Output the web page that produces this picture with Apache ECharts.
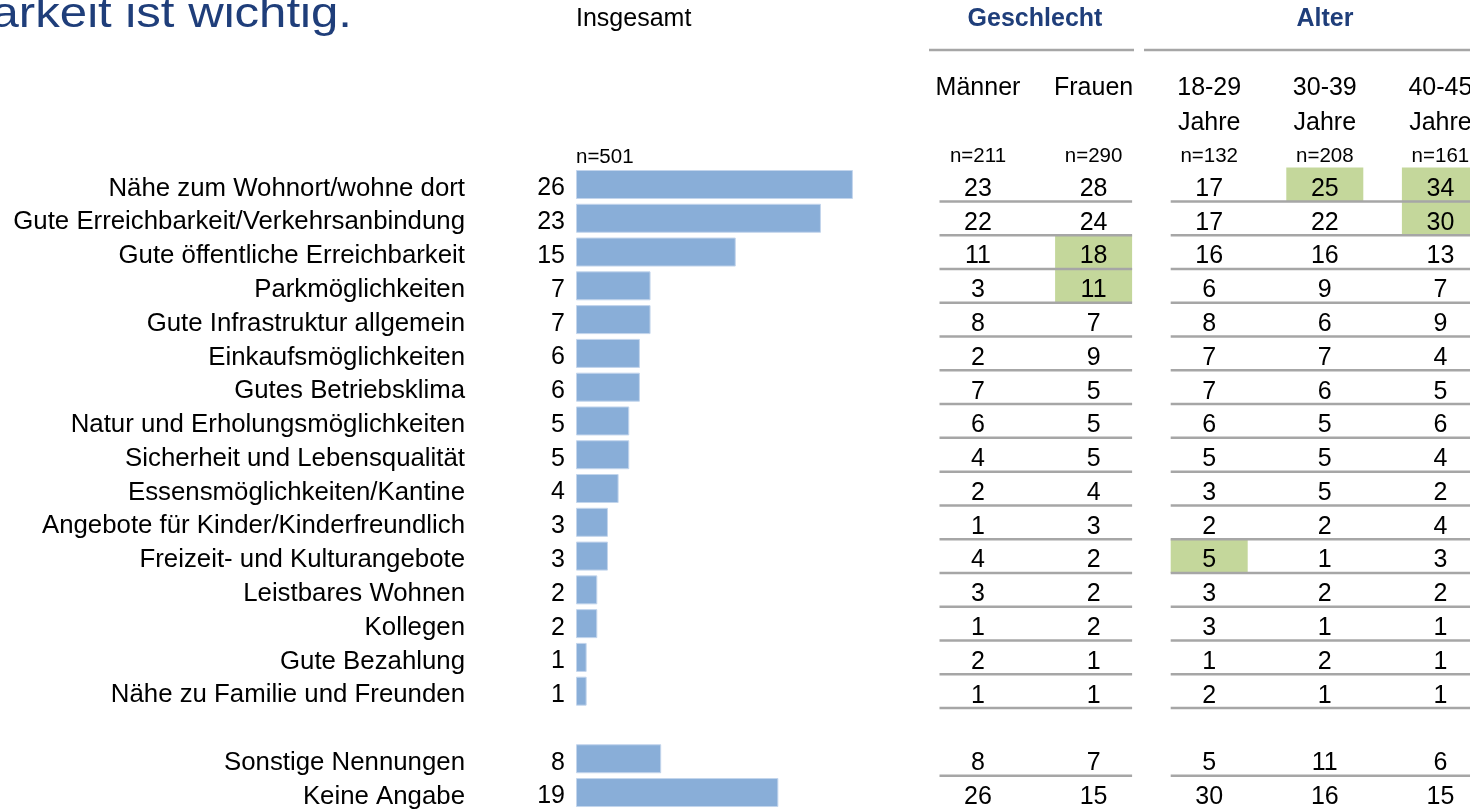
<!DOCTYPE html>
<html>
<head>
<meta charset="utf-8">
<title>Erreichbarkeit</title>
<script src="https://cdn.jsdelivr.net/npm/echarts@6.0.0/dist/echarts.min.js"></script>
<style>
    html, body { margin: 0; padding: 0; background: #fff; }
    #chart { width: 1470px; height: 811px; }
</style>
</head>
<body>
<div id="chart"></div>
<script>
// Kategorien (leerer Eintrag = Abstand vor "Sonstige")
var categories = [
    'Nähe zum Wohnort/wohne dort',
    'Gute Erreichbarkeit/Verkehrsanbindung',
    'Gute öffentliche Erreichbarkeit',
    'Parkmöglichkeiten',
    'Gute Infrastruktur allgemein',
    'Einkaufsmöglichkeiten',
    'Gutes Betriebsklima',
    'Natur und Erholungsmöglichkeiten',
    'Sicherheit und Lebensqualität',
    'Essensmöglichkeiten/Kantine',
    'Angebote für Kinder/Kinderfreundlich',
    'Freizeit- und Kulturangebote',
    'Leistbares Wohnen',
    'Kollegen',
    'Gute Bezahlung',
    'Nähe zu Familie und Freunden',
    '',
    'Sonstige Nennungen',
    'Keine Angabe'
];

// Werte in %
var insgesamt = [26, 23, 15, 7, 7, 6, 6, 5, 5, 4, 3, 3, 2, 2, 1, 1, null, 8, 19];
var maenner   = [23, 22, 11, 3, 8, 2, 7, 6, 4, 2, 1, 4, 3, 1, 2, 1, null, 8, 26];
var frauen    = [28, 24, 18, 11, 7, 9, 5, 5, 5, 4, 3, 2, 2, 2, 1, 1, null, 7, 15];
var alter1829 = [17, 17, 16, 6, 8, 7, 7, 6, 5, 3, 2, 5, 3, 3, 1, 2, null, 5, 30];
var alter3039 = [25, 22, 16, 9, 6, 7, 6, 5, 5, 5, 2, 1, 2, 1, 2, 1, null, 11, 16];
var alter4045 = [34, 30, 13, 7, 9, 4, 5, 6, 4, 2, 4, 3, 2, 1, 1, 1, null, 6, 15];

// Spaltenköpfe
var colHeaders = ['Männer', 'Frauen', '18-29', '30-39', '40-45'];
var colSub = ['', '', 'Jahre', 'Jahre', 'Jahre'];
var sampleSizes = ['n=211', 'n=290', 'n=132', 'n=208', 'n=161'];
var totalSample = 'n=501';

// signifikant höhere Werte [Spalte, Zeile]
var highlighted = [[1, 2], [1, 3], [3, 0], [4, 0], [4, 1], [2, 11]];

var FONT = '"Liberation Sans", Arial, sans-serif';
var BLUE = '#1F3E7A';

var rowH = 33.78;
var gridTop = 184.5 - rowH / 2;
var gridH = rowH * categories.length;
var colW = 115.6;
var tableLeft = 978 - colW / 2;
// Tabelle läuft rechts über den Rand hinaus
var tableWidth = 1470 - tableLeft;
var tableMax = tableWidth / colW - 0.5;

function isHighlighted(c, r) {
    for (var i = 0; i < highlighted.length; i++) {
        if (highlighted[i][0] === c && highlighted[i][1] === r) return true;
    }
    return false;
}

var columns = [maenner, frauen, alter1829, alter3039, alter4045];
var cellData = [];
columns.forEach(function(col, c) {
    col.forEach(function(v, r) {
        if (v !== null) cellData.push([c, r, v, isHighlighted(c, r) ? 1 : 0]);
    });
});

var ruleData = [];
categories.forEach(function(name, r) {
    if (name && r < categories.length - 1) ruleData.push([0, r]);
});

/**
 * Zelle der Tabelle (Wert + ggf. grüner Hintergrund)
 */
function renderCell(params, api) {
    var pt = api.coord([api.value(0), api.value(1)]);
    var h = api.size([1, 1])[1];
    var children = [];
    if (api.value(3)) {
        children.push({
            type: 'rect',
            shape: { x: pt[0] - 38.5, y: pt[1] - h / 2, width: 77, height: h },
            style: { fill: '#C4D79B' }
        });
    }
    children.push({
        type: 'text',
        x: pt[0],
        y: pt[1] + 4.5,
        style: {
            text: String(api.value(2)),
            align: 'center',
            verticalAlign: 'middle',
            font: '25px ' + FONT,
            fill: '#000'
        }
    });
    return { type: 'group', children: children };
}

/**
 * Trennlinien unter jeder Zeile (Geschlecht / Alter getrennt)
 */
function renderRule(params, api) {
    var r = api.value(1);
    var h = api.size([1, 1])[1];
    var y = api.coord([0, r])[1] + h / 2;
    var segs = [[0, 1], [2, 4]];
    return {
        type: 'group',
        children: segs.map(function(s) {
            return {
                type: 'line',
                shape: {
                    x1: api.coord([s[0], r])[0] - 38.5, y1: y,
                    x2: api.coord([s[1], r])[0] + 38.5, y2: y
                },
                style: { stroke: '#A6A6A6', lineWidth: 2.5 }
            };
        })
    };
}

var option = {
    animation: false,
    backgroundColor: '#fff',
    textStyle: { fontFamily: FONT },
    grid: [
        { left: 576, top: gridTop, width: 319.5, height: gridH, outerBoundsMode: 'none' },
        { left: tableLeft, top: gridTop, width: tableWidth, height: gridH, outerBoundsMode: 'none' }
    ],
    xAxis: [
        { gridIndex: 0, type: 'value', min: 0, max: 30, show: false },
        {
            gridIndex: 1,
            type: 'value',
            position: 'top',
            min: -0.5,
            max: tableMax,
            axisLine: { show: false },
            axisTick: { show: false },
            splitLine: { show: false },
            axisLabel: {
                customValues: [0, 1, 2, 3, 4],
                margin: -5,
                formatter: function(val) {
                    var idx = Math.round(val);
                    return '{h|' + colHeaders[idx] + '}\n{h|' + (colSub[idx] || ' ') + '}\n{n|' + sampleSizes[idx] + '}';
                },
                rich: {
                    h: { fontSize: 25, lineHeight: 35, color: '#000', fontFamily: FONT },
                    n: { fontSize: 20.5, lineHeight: 32, color: '#000', fontFamily: FONT }
                }
            }
        }
    ],
    yAxis: [
        {
            gridIndex: 0,
            type: 'category',
            inverse: true,
            data: categories,
            axisLine: { show: false },
            axisTick: { show: false },
            axisLabel: {
                interval: 0,
                margin: 111,
                formatter: function(v) { return '{l|' + v + '}'; },
                rich: {
                    l: { fontSize: 25.8, color: '#000', fontFamily: FONT, padding: [8, 0, 0, 0] }
                }
            }
        },
        { gridIndex: 1, type: 'category', inverse: true, data: categories, show: false }
    ],
    graphic: [
        {
            type: 'text', x: 352, y: 15, scaleX: 1.17, scaleY: 1,
            style: { text: 'Gute Erreichbarkeit ist wichtig.', align: 'right', verticalAlign: 'middle', font: '42px ' + FONT, fill: BLUE }
        },
        {
            type: 'text', x: 576, y: 19,
            style: { text: 'Insgesamt', align: 'left', verticalAlign: 'middle', font: '25px ' + FONT, fill: '#000' }
        },
        {
            type: 'text', x: 576, y: 157,
            style: { text: totalSample, align: 'left', verticalAlign: 'middle', font: '20.5px ' + FONT, fill: '#000' }
        },
        {
            type: 'text', x: 1035, y: 19,
            style: { text: 'Geschlecht', align: 'center', verticalAlign: 'middle', font: 'bold 25px ' + FONT, fill: BLUE }
        },
        {
            type: 'text', x: 1325, y: 19,
            style: { text: 'Alter', align: 'center', verticalAlign: 'middle', font: 'bold 25px ' + FONT, fill: BLUE }
        },
        {
            type: 'line', shape: { x1: 929, y1: 50, x2: 1134, y2: 50 },
            style: { stroke: '#A6A6A6', lineWidth: 2.5 }
        },
        {
            type: 'line', shape: { x1: 1144, y1: 50, x2: 1470, y2: 50 },
            style: { stroke: '#A6A6A6', lineWidth: 2.5 }
        }
    ],
    series: [
        {
            name: 'Insgesamt',
            type: 'bar',
            xAxisIndex: 0,
            yAxisIndex: 0,
            barWidth: 29,
            data: insgesamt.map(function(v) { return v === null ? '-' : v; }),
            itemStyle: { color: '#89AED8', borderColor: '#C3D5EC', borderWidth: 1 },
            label: {
                show: true,
                position: 'left',
                distance: 11,
                offset: [0, 4],
                fontSize: 25,
                color: '#000',
                fontFamily: FONT
            }
        },
        {
            name: 'Tabelle',
            type: 'custom',
            xAxisIndex: 1,
            yAxisIndex: 1,
            z: 2,
            encode: { x: 0, y: 1 },
            data: cellData,
            renderItem: renderCell
        },
        {
            name: 'Linien',
            type: 'custom',
            xAxisIndex: 1,
            yAxisIndex: 1,
            z: 3,
            encode: { x: 0, y: 1 },
            data: ruleData,
            renderItem: renderRule
        }
    ]
};

var chart = echarts.init(document.getElementById('chart'));
chart.setOption(option);
</script>
</body>
</html>
